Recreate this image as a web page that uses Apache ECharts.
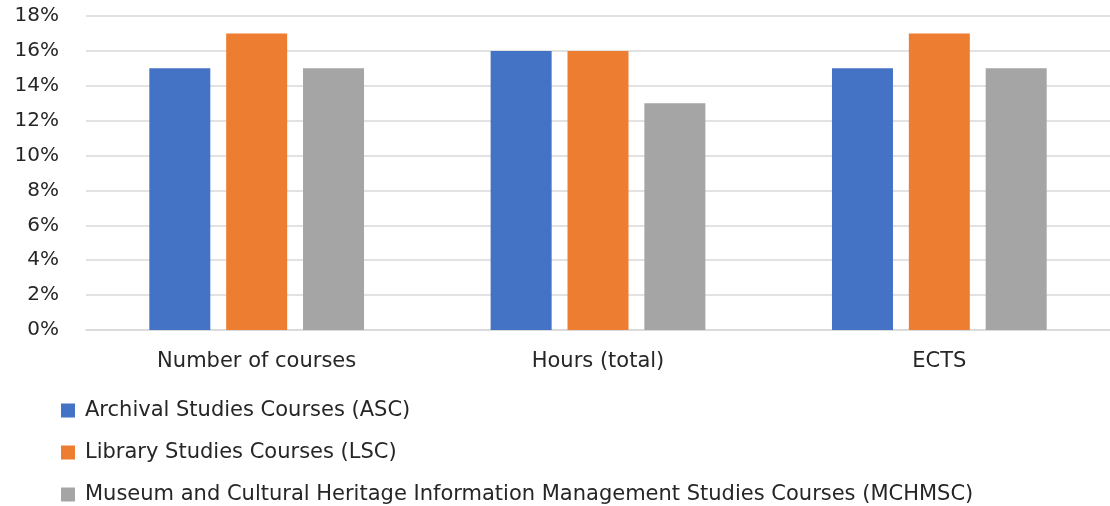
<!DOCTYPE html>
<html>
<head>
<meta charset="utf-8">
<script src="https://cdn.jsdelivr.net/npm/echarts@6/dist/echarts.min.js"></script>
<style>
  html, body { margin: 0; padding: 0; background: #fff; }
  #chart { width: 1110px; height: 506px; }
</style>
</head>
<body>
<div id="chart"></div>
<script>
const categories = ['Number of courses', 'Hours (total)', 'ECTS']
const seriesNames = [
  'Archival Studies Courses (ASC)',
  'Library Studies Courses (LSC)',
  'Museum and Cultural Heritage Information Management Studies Courses (MCHMSC)'
]
const ascValues = [15, 16, 15]
const lscValues = [17, 16, 17]
const mchmscValues = [15, 13, 15]
const colors = ['#4472C4', '#ED7D31', '#A5A5A5']

const myChart = echarts.init(document.getElementById('chart'))
const font = 'DejaVu Sans'

const makeSeries = (name, data, color) => ({
  name,
  type: 'bar',
  data,
  barWidth: 61,
  barGap: '26%',
  itemStyle: { color },
  emphasis: { disabled: true }
})

// one legend per row so they stack like the original
const legendTops = [400, 442, 484]
const legends = seriesNames.map((name, i) => ({
  left: 61,
  top: legendTops[i],
  padding: 0,
  itemWidth: 14,
  itemHeight: 14,
  icon: 'rect',
  textStyle: {
    fontFamily: font,
    fontSize: 21,
    lineHeight: 20,
    color: '#262626',
    padding: [0, 0, 0, 5]
  },
  data: [name]
}))

const option = {
  animation: false,
  color: colors,
  grid: { left: 86, right: 0, top: 16, bottom: 176 },
  legend: legends,
  xAxis: {
    type: 'category',
    data: categories,
    axisTick: { show: false },
    axisLine: { lineStyle: { color: '#d9d9d9', width: 1.5 } },
    axisLabel: { fontFamily: font, fontSize: 21, color: '#262626', margin: 21 }
  },
  yAxis: {
    type: 'value',
    min: 0,
    max: 18,
    interval: 2,
    axisLine: { show: false },
    axisTick: { show: false },
    splitLine: { lineStyle: { color: '#d9d9d9', width: 1.5 } },
    axisLabel: {
      fontFamily: font,
      fontSize: 20,
      color: '#262626',
      margin: 27,
      formatter: '{value}%'
    }
  },
  series: [
    makeSeries(seriesNames[0], ascValues, colors[0]),
    makeSeries(seriesNames[1], lscValues, colors[1]),
    makeSeries(seriesNames[2], mchmscValues, colors[2])
  ]
}
option && myChart.setOption(option)
</script>
</body>
</html>
